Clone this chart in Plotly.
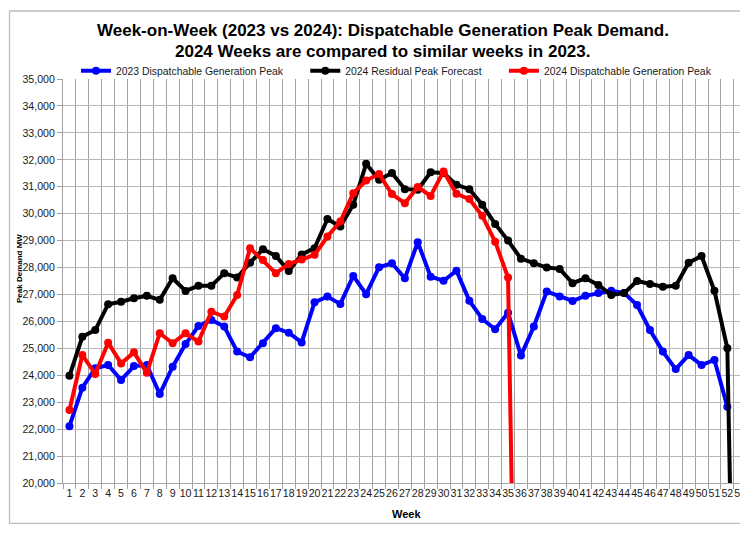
import plotly.graph_objects as go

weeks = list(range(1, 54))
week_labels = [str(w) for w in weeks]

dispatch_2023 = [22110, 23540, 24260, 24380, 23820, 24340, 24380, 23300, 24320, 25160,
                 25830, 26050, 25810, 24880, 24670, 25190, 25750, 25580, 25220, 26710,
                 26920, 26650, 27690, 27010, 28010, 28160, 27600, 28940, 27660, 27510,
                 27880, 26770, 26090, 25710, 26320, 24730, 25810, 27110, 26920, 26760,
                 26950, 27050, 27140, 27050, 26610, 25680, 24880, 24230, 24750, 24380,
                 24570, 22830, None]

residual_2024 = [23980, 25430, 25680, 26640, 26730, 26860, 26950, 26800, 27600, 27130,
                 27320, 27320, 27790, 27630, 28180, 28680, 28430, 27870, 28480, 28720,
                 29800, 29520, 30330, 31850, 31260, 31510, 30910, 30890, 31540, 31510,
                 31070, 30910, 30330, 29620, 29000, 28330, 28160, 28000, 27950, 27420,
                 27600, 27350, 26980, 27050, 27500, 27390, 27290, 27320, 28180, 28430,
                 27140, 25000, 0]

dispatch_2024 = [22710, 24750, 24050, 25210, 24440, 24850, 24090, 25560, 25190, 25560,
                 25250, 26360, 26180, 26980, 28720, 28280, 27790, 28130, 28300, 28470,
                 29150, 29710, 30760, 31230, 31470, 30730, 30390, 30990, 30660, 31570,
                 30740, 30540, 29920, 28960, 27630, 0] + [None] * 17

series_names = ["2023 Dispatchable Generation Peak",
                "2024 Residual Peak Forecast",
                "2024 Dispatchable Generation Peak"]
series_colors = ["#0000ff", "#000000", "#ff0000"]

title_lines = ["Week-on-Week (2023 vs 2024): Dispatchable Generation Peak Demand.",
               "2024 Weeks are compared to similar weeks in 2023."]
y_ticks = list(range(20000, 35001, 1000))
y_tick_labels = [f"{v:,}" for v in y_ticks]

# the page body adds an 8px offset; figure sized to fit the window
OFF = 8
W, H = 740, 516
L, R, T, B = 55, 0, 71, 41
PW, PH = W - L - R, H - T - B
px_per_week = 12.9


def sx(px):
    return (px - OFF - L) / PW


def sy(py):
    return (H - B - (py - OFF)) / PH


FONT = "Liberation Sans"
NB = "\u00a0"
fig = go.Figure()
pads = [6, 6, 0]
for name, vals, col, pad in zip(series_names, [dispatch_2023, residual_2024, dispatch_2024],
                                series_colors, pads):
    fig.add_trace(go.Scatter(
        x=weeks, y=vals, name=name + NB * pad, mode="lines+markers",
        line=dict(color=col, width=4),
        marker=dict(color=col, size=8, symbol="circle"),
        connectgaps=False,
    ))

fig.update_layout(
    width=W, height=H,
    margin=dict(l=L, r=R, t=T, b=B, autoexpand=False),
    paper_bgcolor="white", plot_bgcolor="white",
    font=dict(family=FONT, size=11, color="#000000"),
    showlegend=True,
    legend=dict(orientation="h", x=sx(76), xanchor="left", y=sy(70.7), yanchor="middle",
                font=dict(family=FONT, size=10.4, color="#1a1a1a"),
                bgcolor="rgba(0,0,0,0)", borderwidth=0),
    xaxis=dict(range=[0.5, 0.5 + PW / px_per_week], tickmode="array", tickvals=weeks,
               ticktext=week_labels, tickangle=0, showgrid=False, zeroline=False,
               ticks="", tickfont=dict(family=FONT, size=10.6, color="#1a1a1a"),
               ticklabeloverflow="allow",
               showline=True, linecolor="#a6a6a6", linewidth=1,
               minor=dict(tick0=0.5, dtick=1, showgrid=True, gridcolor="#a0a0a0", gridwidth=1,
                          ticks="outside", ticklen=5, tickcolor="#a0a0a0")),
    yaxis=dict(range=[20000, 35000], tickmode="array", tickvals=y_ticks, ticktext=y_tick_labels,
               showgrid=True, gridcolor="#b8b8b8", gridwidth=1, zeroline=False,
               ticks="outside", ticklen=5, tickcolor="#a0a0a0",
               showline=True, linecolor="#a0a0a0", linewidth=1,
               tickfont=dict(family=FONT, size=10.6, color="#1a1a1a")),
)

# outer chart border
fig.add_shape(type="rect", xref="paper", yref="paper",
              x0=sx(9.5), x1=sx(770), y0=sy(523.3), y1=sy(11),
              line=dict(color="#bdbdbd", width=1.3), fillcolor="rgba(0,0,0,0)", layer="below")

for txt, yy in zip(title_lines, [30.5, 51.5]):
    fig.add_annotation(text=f"<b>{txt}</b>", xref="paper", yref="paper",
                       x=sx(382.5), y=sy(yy), xanchor="center", yanchor="middle",
                       showarrow=False, font=dict(family=FONT, size=17, color="#000000"))

fig.add_annotation(text="<b>Week</b>", xref="paper", yref="paper", x=sx(406), y=sy(514),
                   xanchor="center", yanchor="middle", showarrow=False,
                   font=dict(family=FONT, size=11, color="#000000"))
fig.add_annotation(text="<b>Peak Demand MW</b>", xref="paper", yref="paper", x=sx(19), y=sy(269),
                   xanchor="center", yanchor="middle", textangle=-90, showarrow=False,
                   font=dict(family=FONT, size=8, color="#000000"))

fig.write_html("out.html")
